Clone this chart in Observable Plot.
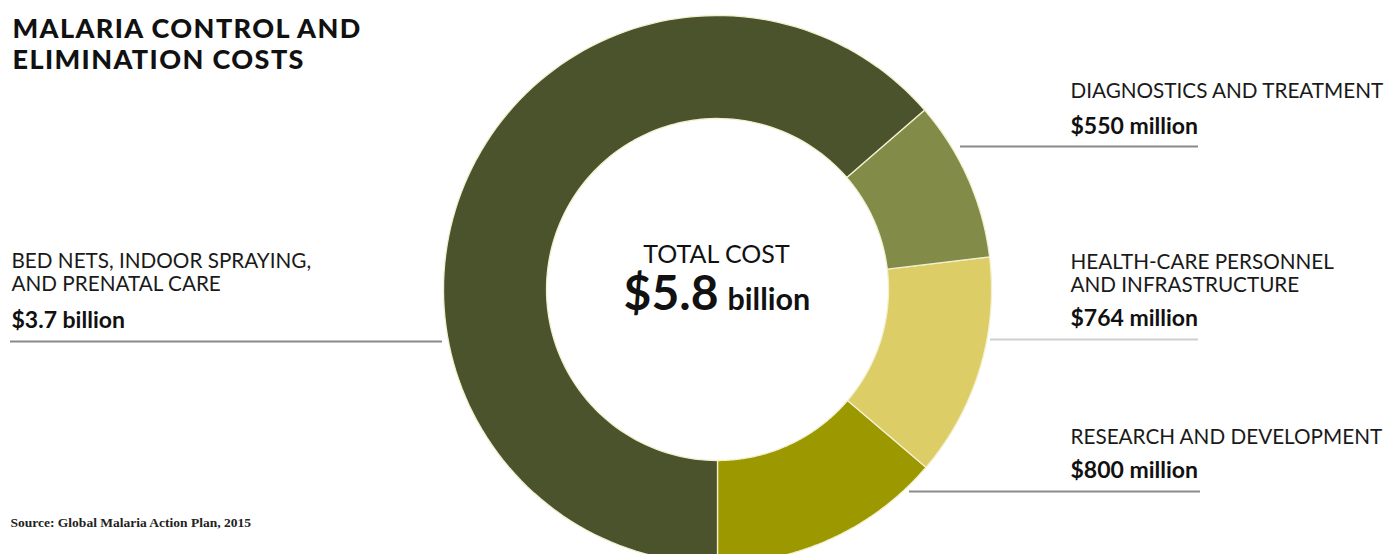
<!DOCTYPE html>
<html><head><meta charset="utf-8">
<script src="https://cdn.jsdelivr.net/npm/d3@7"></script>
<script src="https://cdn.jsdelivr.net/npm/@observablehq/plot@0.6"></script>
<style>
body{margin:0;background:#fff;}
#chart{width:1388px;height:554px;overflow:hidden;}
</style>
</head><body><div id="chart"></div>
<script>
// ---- data ----
const categories = ["Bed nets, indoor spraying, and prenatal care", "Diagnostics and treatment", "Health-care personnel and infrastructure", "Research and development"];
const valuesMillions = [3700, 550, 764, 800];
const labelLines = [
  ["BED NETS, INDOOR SPRAYING,", "AND PRENATAL CARE"],
  ["DIAGNOSTICS AND TREATMENT"],
  ["HEALTH-CARE PERSONNEL", "AND INFRASTRUCTURE"],
  ["RESEARCH AND DEVELOPMENT"]
];
const amountLabels = ["$3.7 billion", "$550 million", "$764 million", "$800 million"];
const sliceColors = ["#4b532c", "#838b48", "#dccd66", "#9c9800"];
const titleLines = ["MALARIA CONTROL AND", "ELIMINATION COSTS"];
const totalTitle = "TOTAL COST";
const totalNumber = "$5.8";
const totalUnit = "billion";
const sourceText = "Source: Global Malaria Action Plan, 2015";

// ---- layout (pixels) ----
const W = 1388, H = 554;
const cx = 717, cy = 289, R = 274, r = 171;
const labelLayout = [
  {x: 11, y0: 267, amountY: 327, ruleY: 341, rx1: 10, rx2: 442, ruleColor: "#8a8a8a"},
  {x: 1070, y0: 97, amountY: 133, ruleY: 146, rx1: 960, rx2: 1198, ruleColor: "#8a8a8a"},
  {x: 1070, y0: 268, amountY: 325, ruleY: 339, rx1: 990, rx2: 1198, ruleColor: "#cfcfcf"},
  {x: 1070, y0: 443, amountY: 477, ruleY: 491, rx1: 909, rx2: 1200, ruleColor: "#8a8a8a"}
];
const lineStep = 23;

// ---- donut geometry from data ----
const order = [3, 2, 1, 0]; // counter-clockwise from 6 o'clock
const pieInput = order.map(i => ({i, value: valuesMillions[i]}));
const arcs = d3.pie().sort(null).value(d => d.value).startAngle(Math.PI).endAngle(-Math.PI)(pieInput);
const polys = [];
for (const a of arcs) {
  const n = 120;
  for (let k = 0; k <= n; k++) {
    const t = a.startAngle + (a.endAngle - a.startAngle) * k / n;
    polys.push({cat: categories[a.data.i], x: cx + R * Math.sin(t), y: cy - R * Math.cos(t)});
  }
  for (let k = n; k >= 0; k--) {
    const t = a.startAngle + (a.endAngle - a.startAngle) * k / n;
    polys.push({cat: categories[a.data.i], x: cx + r * Math.sin(t), y: cy - r * Math.cos(t)});
  }
}

// ---- text rows ----
const labelRows = [];
const amountRows = [];
const ruleRows = [];
categories.forEach((c, i) => {
  const L = labelLayout[i];
  labelLines[i].forEach((t, j) => labelRows.push({text: t, x: L.x, y: L.y0 + j * lineStep}));
  amountRows.push({text: amountLabels[i], x: L.x, y: L.amountY});
  ruleRows.push({y: L.ruleY, x1: L.rx1, x2: L.rx2, color: L.ruleColor});
});
const titleRows = titleLines.map((t, j) => ({text: t, x: 12, y: 37 + j * 31}));

const fontSans = "Lato, 'Open Sans', sans-serif";

const chart = Plot.plot({
  width: W, height: H,
  margin: 0,
  x: {domain: [0, W], range: [0, W], axis: null},
  y: {domain: [0, H], range: [0, H], axis: null},
  color: {domain: categories, range: sliceColors},
  style: {background: "#fff", overflow: "hidden"},
  marks: [
    Plot.line(polys, {x: "x", y: "y", z: "cat", fill: "cat", stroke: "#f3f0cf", strokeWidth: 1.3, curve: "linear-closed"}),
    Plot.ruleY(ruleRows, {y: "y", x1: "x1", x2: "x2", stroke: d => d.color, strokeWidth: 2}),
    Plot.text(titleRows, {x: "x", y: "y", text: "text", textAnchor: "start", lineAnchor: "bottom", fontSize: 27, fontWeight: 900, fontFamily: fontSans, fill: "#111"}),
    Plot.text(labelRows, {x: "x", y: "y", text: "text", textAnchor: "start", lineAnchor: "bottom", fontSize: 20.7, fontFamily: fontSans, fill: "#1a1a1a"}),
    Plot.text(amountRows, {x: "x", y: "y", text: "text", textAnchor: "start", lineAnchor: "bottom", fontSize: 23, fontWeight: "bold", fontFamily: fontSans, fill: "#111"}),
    Plot.text([totalTitle], {x: cx - 1, y: 262, text: d => d, textAnchor: "middle", lineAnchor: "bottom", fontSize: 25, fontFamily: fontSans, fill: "#111"}),
    Plot.text([totalNumber], {x: 718, y: 309, text: d => d, textAnchor: "end", lineAnchor: "bottom", fontSize: 48, fontWeight: "bold", fontFamily: fontSans, fill: "#111"}),
    Plot.text([totalUnit], {x: 727, y: 309, text: d => d, textAnchor: "start", lineAnchor: "bottom", fontSize: 30.5, fontWeight: "bold", fontFamily: fontSans, fill: "#111"}),
    Plot.text([sourceText], {x: 10, y: 526, text: d => d, textAnchor: "start", lineAnchor: "bottom", fontSize: 13.5, fontWeight: "bold", fontFamily: "'Liberation Serif', 'DejaVu Serif', serif", fill: "#222"})
  ]
});
// widen the title's tracking like the reference's display face
chart.querySelectorAll("text").forEach(t => {
  if (titleLines.includes(t.textContent)) t.setAttribute("letter-spacing", "1.4");
});
document.getElementById("chart").appendChild(chart);
</script>
</body></html>
